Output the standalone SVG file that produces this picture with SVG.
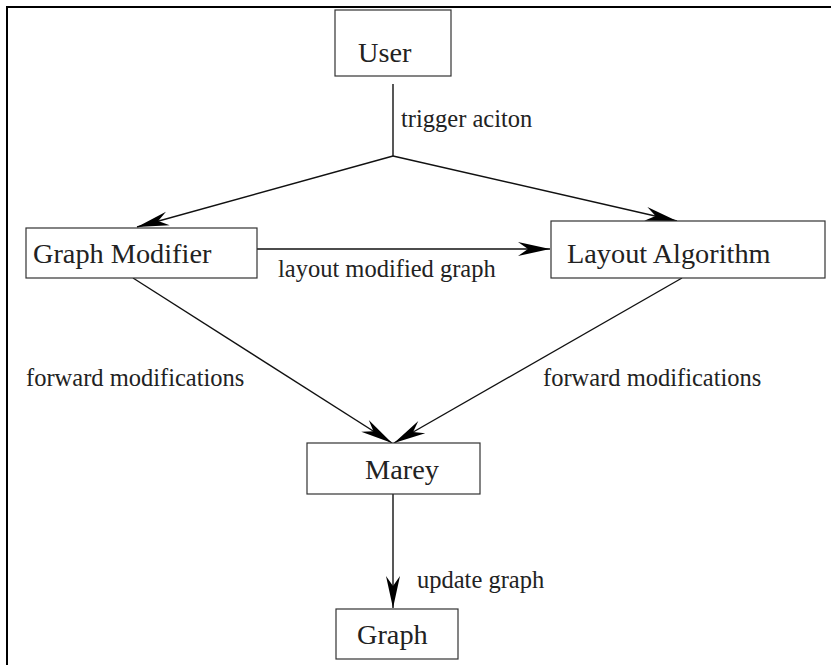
<svg xmlns="http://www.w3.org/2000/svg" width="831" height="665" viewBox="0 0 831 665">
<style>
.box{fill:#fff;stroke:#333;stroke-width:1.2}
.lbl{font-family:"Liberation Serif","Times New Roman",serif;font-size:28.3px;fill:#222}
.elbl{font-family:"Liberation Serif","Times New Roman",serif;font-size:24.5px;fill:#222}
.edge{stroke:#111;stroke-width:1.4;fill:none}
.arr{marker-end:url(#ah)}
</style>
<defs>
<marker id="ah" markerUnits="userSpaceOnUse" viewBox="-33 -9 34 18" refX="0" refY="0" markerWidth="34" markerHeight="18" orient="auto">
<path d="M0,0 L-32,-7 L-22,0 L-32,7 Z" fill="#000"/>
</marker>
</defs>
<rect width="831" height="665" fill="#fff"/>
<path d="M7,665 L7,7 L831,7" stroke="#000" stroke-width="2" fill="none"/>
<g id="connectors">
<line class="edge" x1="393" y1="84" x2="393" y2="156"/>
<line class="edge arr" x1="393" y1="156" x2="137" y2="227"/>
<line class="edge arr" x1="393" y1="156" x2="677" y2="221"/>
<line class="edge arr" x1="257" y1="249" x2="550" y2="249"/>
<line class="edge arr" x1="133" y1="278" x2="392" y2="443"/>
<line class="edge arr" x1="682" y1="278" x2="394" y2="443"/>
<line class="edge arr" x1="393" y1="494" x2="393" y2="608"/>
<text class="elbl" x="401" y="127">trigger aciton</text>
<text class="elbl" x="278" y="277">layout modified graph</text>
<text class="elbl" x="26" y="386">forward modifications</text>
<text class="elbl" x="543" y="386">forward modifications</text>
<text class="elbl" x="417" y="588">update graph</text>
</g>
<g id="user">
<rect class="box" x="335" y="10" width="116" height="66"/>
<text class="lbl" x="358" y="62">User</text>
</g>
<g id="graph-modifier">
<rect class="box" x="26" y="228" width="231" height="50"/>
<text class="lbl" x="33" y="263">Graph Modifier</text>
</g>
<g id="layout-algorithm">
<rect class="box" x="551" y="221" width="274" height="57"/>
<text class="lbl" x="567" y="263">Layout Algorithm</text>
</g>
<g id="marey">
<rect class="box" x="307" y="443" width="173" height="51"/>
<text class="lbl" x="365" y="479">Marey</text>
</g>
<g id="graph">
<rect class="box" x="336" y="609" width="122" height="50"/>
<text class="lbl" x="357" y="644">Graph</text>
</g>
</svg>
